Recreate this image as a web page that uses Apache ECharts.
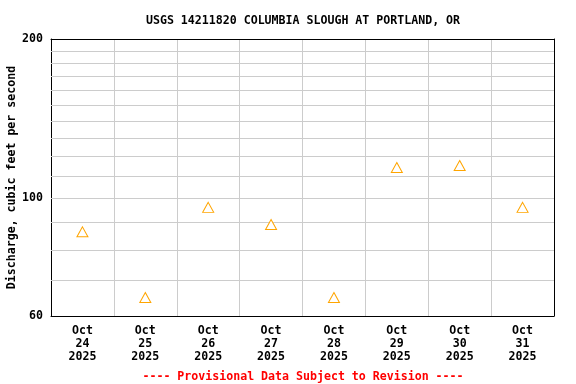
<!DOCTYPE html>
<html><head><meta charset="utf-8">
<script src="https://cdn.jsdelivr.net/npm/echarts@6/dist/echarts.min.js"></script>
<style>html,body{margin:0;padding:0;background:#fff}#c{width:576px;height:384px}</style>
</head><body><div id="c"></div>
<script>
var categories = ['Oct\n24\n2025','Oct\n25\n2025','Oct\n26\n2025','Oct\n27\n2025','Oct\n28\n2025','Oct\n29\n2025','Oct\n30\n2025','Oct\n31\n2025'];
var discharge = [86.5, 65.0, 96.2, 89.3, 65.0, 114.4, 115.4, 96.2];
var yTickLabels = [60, 100, 200];
var yGridValues = [70, 80, 90, 100, 110, 120, 130, 140, 150, 160, 170, 180, 190];
var titleText = 'USGS 14211820 COLUMBIA SLOUGH AT PORTLAND, OR';
var yName = 'Discharge, cubic feet per second';
var footerText = '---- Provisional Data Subject to Revision ----';

var FONT = 'DejaVu Sans Mono';
var blackLine = {show: true, lineStyle: {color: '#000', width: 1}};
var chart = echarts.init(document.getElementById('c'), null, {renderer: 'canvas'});
chart.setOption({
  animation: false,
  backgroundColor: '#fff',
  title: [{
    text: titleText, left: 298, top: 10, textAlign: 'center',
    textStyle: {fontFamily: FONT, fontSize: 11.6, fontWeight: 'bold', color: '#000'}
  }, {
    text: footerText, left: 298, top: 366, textAlign: 'center',
    textStyle: {fontFamily: FONT, fontSize: 11.6, fontWeight: 'bold', color: '#ff0000'}
  }],
  grid: {left: 51, right: 22, top: 39, bottom: 68, outerBoundsMode: 'none', containLabel: false, show: false},
  xAxis: [{
    type: 'category', data: categories, boundaryGap: true,
    axisLine: blackLine, axisTick: {show: false},
    splitLine: {show: true, lineStyle: {color: '#cccccc', width: 1}},
    axisLabel: {fontFamily: FONT, fontSize: 11.6, fontWeight: 'bold', color: '#000', lineHeight: 13, margin: 8, interval: 0}
  }, {
    type: 'category', data: categories, position: 'top', boundaryGap: true,
    axisLine: blackLine, axisTick: {show: false}, axisLabel: {show: false}, splitLine: {show: false}
  }],
  yAxis: [{
    type: 'log', logBase: 10, min: 60, max: 200,
    axisLine: blackLine, axisTick: {show: false}, splitLine: {show: false},
    axisLabel: {customValues: yTickLabels, fontFamily: FONT, fontSize: 11.6, fontWeight: 'bold', color: '#000', margin: 8},
    name: yName, nameLocation: 'middle', nameGap: 33, nameRotate: 90, nameMoveOverlap: false,
    nameTextStyle: {fontFamily: FONT, fontSize: 11.6, fontWeight: 'bold', color: '#000'}
  }, {
    type: 'log', logBase: 10, min: 60, max: 200, position: 'right',
    axisLine: blackLine, axisTick: {show: false}, splitLine: {show: false}, axisLabel: {show: false}
  }],
  series: [{
    type: 'scatter', data: discharge, symbol: 'triangle', symbolSize: [11, 10],
    itemStyle: {color: '#ffffff', borderColor: '#ffa500', borderWidth: 1, opacity: 1},
    z: 5,
    markLine: {
      silent: true, symbol: ['none', 'none'], animation: false,
      label: {show: false},
      lineStyle: {color: '#cccccc', width: 1, type: 'solid'},
      emphasis: {disabled: true},
      data: yGridValues.map(function(v){ return {yAxis: v}; })
    }
  }]
});
</script></body></html>
